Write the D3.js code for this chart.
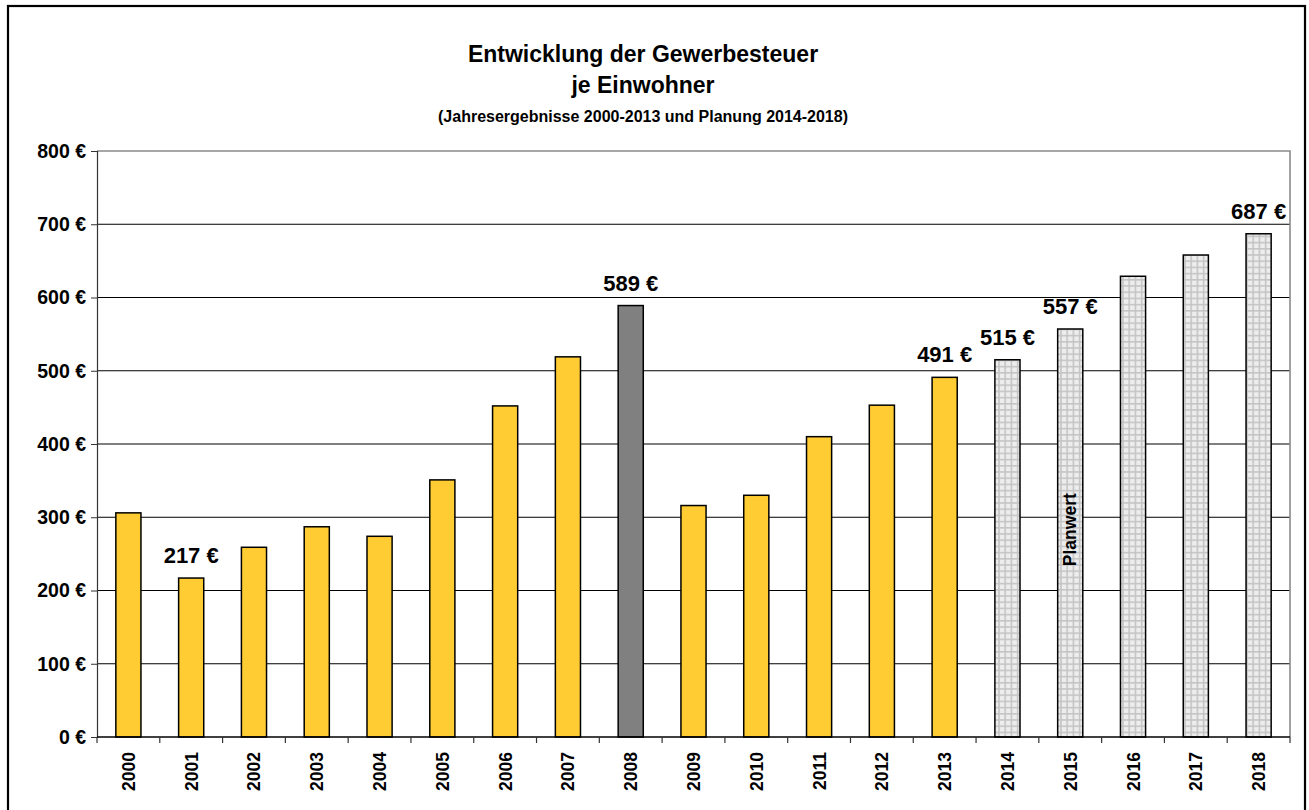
<!DOCTYPE html>
<html><head><meta charset="utf-8">
<script src="https://cdn.jsdelivr.net/npm/d3@7"></script>
<style>
html,body{margin:0;padding:0;background:#fff;}
svg{display:block;font-family:"Liberation Sans",Arial,sans-serif;font-weight:bold;}
</style></head>
<body>
<svg id="chart" width="1309" height="810"></svg>
<script>
const years = ["2000","2001","2002","2003","2004","2005","2006","2007","2008","2009","2010","2011","2012","2013","2014","2015","2016","2017","2018"];
const values = [306,217,259,287,274,351,452,519,589,316,330,410,453,491,515,557,629,658,687];
const barType = ["ist","ist","ist","ist","ist","ist","ist","ist","peak","ist","ist","ist","ist","ist","plan","plan","plan","plan","plan"];
const labeledYears = ["2001","2008","2013","2014","2015","2018"];
const yTicks = [0,100,200,300,400,500,600,700,800];
const titleLines = ["Entwicklung der Gewerbesteuer","je Einwohner"];
const subtitle = "(Jahresergebnisse 2000-2013 und Planung 2014-2018)";
const planNote = {year:"2015", text:"Planwert", value:283};

const svg = d3.select("#chart");
const m = {left:97, right:1290, top:151, bottom:737};

const defs = svg.append("defs");
const pat = defs.append("pattern").attr("id","grid").attr("patternUnits","userSpaceOnUse")
  .attr("width",6.2).attr("height",6.2);
pat.append("rect").attr("width",6.2).attr("height",6.2).attr("fill","#ededed");
pat.append("path").attr("d","M0.8,0V6.2M0,0.8H6.2").attr("stroke","#c4c4c4").attr("stroke-width",1.6);

// outer border
svg.append("rect").attr("x",8).attr("y",6).attr("width",1297).attr("height",820)
  .attr("fill","none").attr("stroke","#000").attr("stroke-width",2.2);

const x = d3.scaleBand().domain(years).range([m.left,m.right]).paddingInner(0.6).paddingOuter(0.3);
const y = d3.scaleLinear().domain([0,800]).range([m.bottom,m.top]);

// gridlines
svg.append("g").selectAll("line").data(yTicks.filter(t=>t>0 && t<800)).join("line")
  .attr("x1",m.left).attr("x2",m.right).attr("y1",d=>y(d)).attr("y2",d=>y(d))
  .attr("stroke","#000").attr("stroke-width",1);
// plot border top/right
svg.append("path").attr("d",`M${m.left},${y(800)}H${m.right}V${m.bottom}`)
  .attr("fill","none").attr("stroke","#8a8a8a").attr("stroke-width",1.6);

// bars
const fills = {ist:"#ffcc33", peak:"#808080", plan:"url(#grid)"};
svg.append("g").selectAll("rect").data(years).join("rect")
  .attr("x",d=>x(d)).attr("width",x.bandwidth())
  .attr("y",(d,i)=>y(values[i])).attr("height",(d,i)=>y(0)-y(values[i]))
  .attr("fill",(d,i)=>fills[barType[i]]).attr("stroke","#000").attr("stroke-width",1.5);

// y axis
const yAxis = svg.append("g").attr("transform",`translate(${m.left},0)`)
  .call(d3.axisLeft(y).tickValues(yTicks).tickSize(6).tickPadding(5).tickFormat(d=>d+" €"));
yAxis.select(".domain").attr("stroke","#333").attr("stroke-width",1.2);
yAxis.selectAll(".tick line").attr("stroke","#333");
yAxis.selectAll("text").attr("font-size",19.5).attr("font-weight","bold")
  .attr("font-family","'Liberation Sans',Arial,sans-serif").attr("fill","#000");

// x axis
const xTickPos = years.map((d,i)=>m.left + i*(m.right-m.left)/years.length).concat([m.right]);
const xAxisG = svg.append("g");
xAxisG.append("line").attr("x1",m.left).attr("x2",m.right).attr("y1",m.bottom).attr("y2",m.bottom)
  .attr("stroke","#000").attr("stroke-width",1.3);
xAxisG.selectAll("line.t").data(xTickPos).join("line").attr("class","t")
  .attr("x1",d=>d).attr("x2",d=>d).attr("y1",m.bottom).attr("y2",m.bottom+6)
  .attr("stroke","#333").attr("stroke-width",1.2);
xAxisG.selectAll("text").data(years).join("text")
  .attr("transform",d=>`translate(${x(d)+x.bandwidth()/2+6.5},${m.bottom+15}) rotate(-90)`)
  .attr("text-anchor","end").attr("font-size",17.5).attr("fill","#000").text(d=>d);

// data labels
svg.append("g").selectAll("text").data(labeledYears).join("text")
  .attr("x",d=>x(d)+x.bandwidth()/2)
  .attr("y",d=>y(values[years.indexOf(d)])-15)
  .attr("text-anchor","middle").attr("font-size",22).attr("fill","#000")
  .text(d=>values[years.indexOf(d)]+" €");

// plan note
svg.append("text")
  .attr("transform",`translate(${x(planNote.year)+x.bandwidth()/2+5.5},${y(planNote.value)}) rotate(-90)`)
  .attr("text-anchor","middle").attr("font-size",17.5).attr("fill","#000").text(planNote.text);

// titles
const tx = 643;
svg.append("text").attr("x",tx).attr("y",62).attr("text-anchor","middle").attr("font-size",23).text(titleLines[0]);
svg.append("text").attr("x",tx).attr("y",93).attr("text-anchor","middle").attr("font-size",23).text(titleLines[1]);
svg.append("text").attr("x",tx).attr("y",122).attr("text-anchor","middle").attr("font-size",16).text(subtitle);
</script>
</body></html>
